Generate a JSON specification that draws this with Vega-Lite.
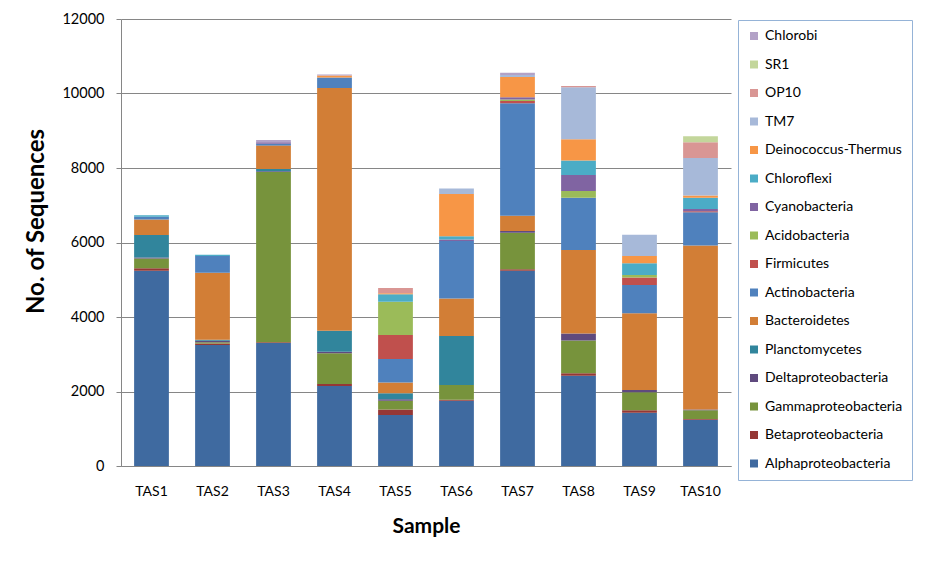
{
  "$schema": "https://vega.github.io/schema/vega-lite/v6.json",
  "autosize": {"type": "none"},
  "padding": {"left": 121, "top": 19, "right": 201, "bottom": 95},
  "width": 610,
  "height": 447,
  "background": "white",
  "config": {
    "font": "Lato",
    "view": {"stroke": null}
  },
  "datasets": {
    "phyla": [
      {"phylum": "Alphaproteobacteria", "stackRank": 1},
      {"phylum": "Betaproteobacteria", "stackRank": 2},
      {"phylum": "Gammaproteobacteria", "stackRank": 3},
      {"phylum": "Deltaproteobacteria", "stackRank": 4},
      {"phylum": "Planctomycetes", "stackRank": 5},
      {"phylum": "Bacteroidetes", "stackRank": 6},
      {"phylum": "Actinobacteria", "stackRank": 7},
      {"phylum": "Firmicutes", "stackRank": 8},
      {"phylum": "Acidobacteria", "stackRank": 9},
      {"phylum": "Cyanobacteria", "stackRank": 10},
      {"phylum": "Chloroflexi", "stackRank": 11},
      {"phylum": "Deinococcus-Thermus", "stackRank": 12},
      {"phylum": "TM7", "stackRank": 13},
      {"phylum": "OP10", "stackRank": 14},
      {"phylum": "SR1", "stackRank": 15},
      {"phylum": "Chlorobi", "stackRank": 16}
    ],
    "counts": [
      {"sample": "TAS1", "phylum": "Alphaproteobacteria", "count": 5240},
      {"sample": "TAS1", "phylum": "Betaproteobacteria", "count": 70},
      {"sample": "TAS1", "phylum": "Gammaproteobacteria", "count": 260},
      {"sample": "TAS1", "phylum": "Deltaproteobacteria", "count": 30},
      {"sample": "TAS1", "phylum": "Planctomycetes", "count": 600},
      {"sample": "TAS1", "phylum": "Bacteroidetes", "count": 420},
      {"sample": "TAS1", "phylum": "Actinobacteria", "count": 70},
      {"sample": "TAS1", "phylum": "Chloroflexi", "count": 40},

      {"sample": "TAS2", "phylum": "Alphaproteobacteria", "count": 3250},
      {"sample": "TAS2", "phylum": "Betaproteobacteria", "count": 40},
      {"sample": "TAS2", "phylum": "Gammaproteobacteria", "count": 30},
      {"sample": "TAS2", "phylum": "Deltaproteobacteria", "count": 40},
      {"sample": "TAS2", "phylum": "Planctomycetes", "count": 30},
      {"sample": "TAS2", "phylum": "Bacteroidetes", "count": 1800},
      {"sample": "TAS2", "phylum": "Actinobacteria", "count": 450},
      {"sample": "TAS2", "phylum": "Chloroflexi", "count": 30},

      {"sample": "TAS3", "phylum": "Alphaproteobacteria", "count": 3300},
      {"sample": "TAS3", "phylum": "Betaproteobacteria", "count": 20},
      {"sample": "TAS3", "phylum": "Gammaproteobacteria", "count": 4570},
      {"sample": "TAS3", "phylum": "Deltaproteobacteria", "count": 20},
      {"sample": "TAS3", "phylum": "Planctomycetes", "count": 60},
      {"sample": "TAS3", "phylum": "Actinobacteria", "count": 50},
      {"sample": "TAS3", "phylum": "Bacteroidetes", "count": 630},
      {"sample": "TAS3", "phylum": "Cyanobacteria", "count": 40},
      {"sample": "TAS3", "phylum": "Chlorobi", "count": 60},

      {"sample": "TAS4", "phylum": "Alphaproteobacteria", "count": 2150},
      {"sample": "TAS4", "phylum": "Betaproteobacteria", "count": 50},
      {"sample": "TAS4", "phylum": "Gammaproteobacteria", "count": 830},
      {"sample": "TAS4", "phylum": "Deltaproteobacteria", "count": 40},
      {"sample": "TAS4", "phylum": "Planctomycetes", "count": 560},
      {"sample": "TAS4", "phylum": "Bacteroidetes", "count": 6520},
      {"sample": "TAS4", "phylum": "Actinobacteria", "count": 280},
      {"sample": "TAS4", "phylum": "Deinococcus-Thermus", "count": 50},
      {"sample": "TAS4", "phylum": "Chlorobi", "count": 30},

      {"sample": "TAS5", "phylum": "Alphaproteobacteria", "count": 1370},
      {"sample": "TAS5", "phylum": "Betaproteobacteria", "count": 150},
      {"sample": "TAS5", "phylum": "Gammaproteobacteria", "count": 230},
      {"sample": "TAS5", "phylum": "Deltaproteobacteria", "count": 40},
      {"sample": "TAS5", "phylum": "Planctomycetes", "count": 160},
      {"sample": "TAS5", "phylum": "Bacteroidetes", "count": 290},
      {"sample": "TAS5", "phylum": "Actinobacteria", "count": 630},
      {"sample": "TAS5", "phylum": "Firmicutes", "count": 650},
      {"sample": "TAS5", "phylum": "Acidobacteria", "count": 890},
      {"sample": "TAS5", "phylum": "Chloroflexi", "count": 200},
      {"sample": "TAS5", "phylum": "Deinococcus-Thermus", "count": 30},
      {"sample": "TAS5", "phylum": "OP10", "count": 140},

      {"sample": "TAS6", "phylum": "Alphaproteobacteria", "count": 1750},
      {"sample": "TAS6", "phylum": "Betaproteobacteria", "count": 30},
      {"sample": "TAS6", "phylum": "Gammaproteobacteria", "count": 395},
      {"sample": "TAS6", "phylum": "Planctomycetes", "count": 1315},
      {"sample": "TAS6", "phylum": "Bacteroidetes", "count": 1010},
      {"sample": "TAS6", "phylum": "Actinobacteria", "count": 1540},
      {"sample": "TAS6", "phylum": "Cyanobacteria", "count": 40},
      {"sample": "TAS6", "phylum": "Chloroflexi", "count": 90},
      {"sample": "TAS6", "phylum": "Deinococcus-Thermus", "count": 1130},
      {"sample": "TAS6", "phylum": "TM7", "count": 150},

      {"sample": "TAS7", "phylum": "Alphaproteobacteria", "count": 5240},
      {"sample": "TAS7", "phylum": "Betaproteobacteria", "count": 40},
      {"sample": "TAS7", "phylum": "Gammaproteobacteria", "count": 985},
      {"sample": "TAS7", "phylum": "Deltaproteobacteria", "count": 45},
      {"sample": "TAS7", "phylum": "Bacteroidetes", "count": 410},
      {"sample": "TAS7", "phylum": "Actinobacteria", "count": 3020},
      {"sample": "TAS7", "phylum": "Firmicutes", "count": 60},
      {"sample": "TAS7", "phylum": "Acidobacteria", "count": 40},
      {"sample": "TAS7", "phylum": "Cyanobacteria", "count": 60},
      {"sample": "TAS7", "phylum": "Deinococcus-Thermus", "count": 540},
      {"sample": "TAS7", "phylum": "TM7", "count": 60},
      {"sample": "TAS7", "phylum": "Chlorobi", "count": 60},

      {"sample": "TAS8", "phylum": "Alphaproteobacteria", "count": 2420},
      {"sample": "TAS8", "phylum": "Betaproteobacteria", "count": 70},
      {"sample": "TAS8", "phylum": "Gammaproteobacteria", "count": 880},
      {"sample": "TAS8", "phylum": "Deltaproteobacteria", "count": 190},
      {"sample": "TAS8", "phylum": "Bacteroidetes", "count": 2240},
      {"sample": "TAS8", "phylum": "Actinobacteria", "count": 1400},
      {"sample": "TAS8", "phylum": "Acidobacteria", "count": 180},
      {"sample": "TAS8", "phylum": "Cyanobacteria", "count": 430},
      {"sample": "TAS8", "phylum": "Chloroflexi", "count": 390},
      {"sample": "TAS8", "phylum": "Deinococcus-Thermus", "count": 570},
      {"sample": "TAS8", "phylum": "TM7", "count": 1400},
      {"sample": "TAS8", "phylum": "OP10", "count": 30},

      {"sample": "TAS9", "phylum": "Alphaproteobacteria", "count": 1430},
      {"sample": "TAS9", "phylum": "Betaproteobacteria", "count": 70},
      {"sample": "TAS9", "phylum": "Gammaproteobacteria", "count": 480},
      {"sample": "TAS9", "phylum": "Deltaproteobacteria", "count": 60},
      {"sample": "TAS9", "phylum": "Bacteroidetes", "count": 2060},
      {"sample": "TAS9", "phylum": "Actinobacteria", "count": 760},
      {"sample": "TAS9", "phylum": "Firmicutes", "count": 200},
      {"sample": "TAS9", "phylum": "Acidobacteria", "count": 70},
      {"sample": "TAS9", "phylum": "Chloroflexi", "count": 310},
      {"sample": "TAS9", "phylum": "Deinococcus-Thermus", "count": 200},
      {"sample": "TAS9", "phylum": "TM7", "count": 570},

      {"sample": "TAS10", "phylum": "Alphaproteobacteria", "count": 1240},
      {"sample": "TAS10", "phylum": "Betaproteobacteria", "count": 20},
      {"sample": "TAS10", "phylum": "Gammaproteobacteria", "count": 240},
      {"sample": "TAS10", "phylum": "Deltaproteobacteria", "count": 20},
      {"sample": "TAS10", "phylum": "Bacteroidetes", "count": 4400},
      {"sample": "TAS10", "phylum": "Actinobacteria", "count": 890},
      {"sample": "TAS10", "phylum": "Firmicutes", "count": 30},
      {"sample": "TAS10", "phylum": "Cyanobacteria", "count": 60},
      {"sample": "TAS10", "phylum": "Chloroflexi", "count": 300},
      {"sample": "TAS10", "phylum": "Deinococcus-Thermus", "count": 60},
      {"sample": "TAS10", "phylum": "TM7", "count": 1010},
      {"sample": "TAS10", "phylum": "OP10", "count": 420},
      {"sample": "TAS10", "phylum": "SR1", "count": 160}
    ]
  },
  "data": {"name": "counts"},
  "transform": [
    {"lookup": "phylum", "from": {"data": {"name": "phyla"}, "key": "phylum", "fields": ["stackRank"]}}
  ],
  "mark": {"type": "bar"},
  "encoding": {
    "x": {
      "field": "sample",
      "type": "nominal",
      "sort": ["TAS1", "TAS2", "TAS3", "TAS4", "TAS5", "TAS6", "TAS7", "TAS8", "TAS9", "TAS10"],
      "scale": {"paddingInner": 0.43, "paddingOuter": 0.215},
      "axis": {
        "title": "Sample",
        "titleFontSize": 21,
        "titleFontWeight": "bold",
        "titleColor": "#000000",
        "titlePadding": 17,
        "labelAngle": 0,
        "labelFontSize": 14,
        "labelColor": "#000000",
        "labelPadding": 18,
        "domainColor": "#868686",
        "ticks": false,
        "grid": false
      }
    },
    "y": {
      "field": "count",
      "type": "quantitative",
      "stack": "zero",
      "scale": {"domain": [0, 12000], "nice": false},
      "axis": {
        "title": "No. of Sequences",
        "titleFontSize": 24,
        "titleFontWeight": "bold",
        "titleColor": "#000000",
        "titlePadding": 13,
        "titleY": 202,
        "values": [0, 2000, 4000, 6000, 8000, 10000, 12000],
        "format": "d",
        "labelFontSize": 14.5,
        "labelColor": "#000000",
        "labelPadding": 12,
        "domainColor": "#868686",
        "tickColor": "#868686",
        "tickSize": 5,
        "gridColor": "#868686",
        "gridWidth": 1
      }
    },
    "order": {"field": "stackRank", "type": "quantitative", "sort": "ascending"},
    "color": {
      "field": "phylum",
      "type": "nominal",
      "scale": {
        "domain": ["Chlorobi", "SR1", "OP10", "TM7", "Deinococcus-Thermus", "Chloroflexi", "Cyanobacteria", "Acidobacteria", "Firmicutes", "Actinobacteria", "Bacteroidetes", "Planctomycetes", "Deltaproteobacteria", "Gammaproteobacteria", "Betaproteobacteria", "Alphaproteobacteria"],
        "range": ["#B3A2C7", "#C3D69B", "#D99694", "#A7B9D9", "#F79646", "#4BACC6", "#8064A2", "#9BBB59", "#C0504D", "#4F81BD", "#D27E36", "#31859C", "#5F4A7E", "#77933C", "#953735", "#3F6AA0"]
      },
      "legend": {
        "title": null,
        "orient": "none",
        "legendX": 617,
        "legendY": 1,
        "symbolType": "square",
        "symbolSize": 64,
        "symbolStrokeWidth": 0,
        "labelFontSize": 14,
        "labelColor": "#000000",
        "labelOffset": 4,
        "rowPadding": 14.5,
        "padding": 9,
        "strokeColor": "#95B3D7",
        "fillColor": "white",
        "labelLimit": 300
      }
    }
  }
}
